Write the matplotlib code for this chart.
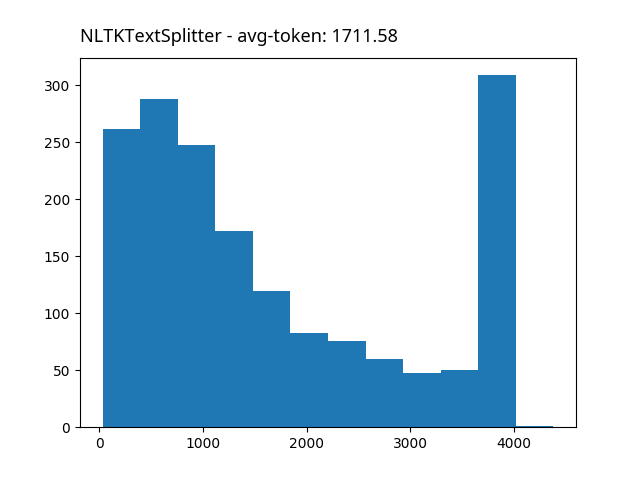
import matplotlib
matplotlib.use("Agg")
import matplotlib.pyplot as plt
import numpy as np

# bin edges (token counts) and counts
bin_edges = np.linspace(30, 4380, 13)
counts = [262, 288, 248, 172, 120, 83, 76, 60, 48, 50, 309, 1]
title = "NLTKTextSplitter - avg-token: 1711.58"


def main():
    centers = (bin_edges[:-1] + bin_edges[1:]) / 2
    fig, ax = plt.subplots(figsize=(6.4, 4.8), dpi=100)
    ax.hist(centers, bins=bin_edges, weights=counts, color="#1f77b4")
    ax.set_title(title, loc="left", fontsize=13, family=["Noto Sans", "DejaVu Sans"], pad=11)
    fig.savefig("out.png")


if __name__ == "__main__":
    main()
